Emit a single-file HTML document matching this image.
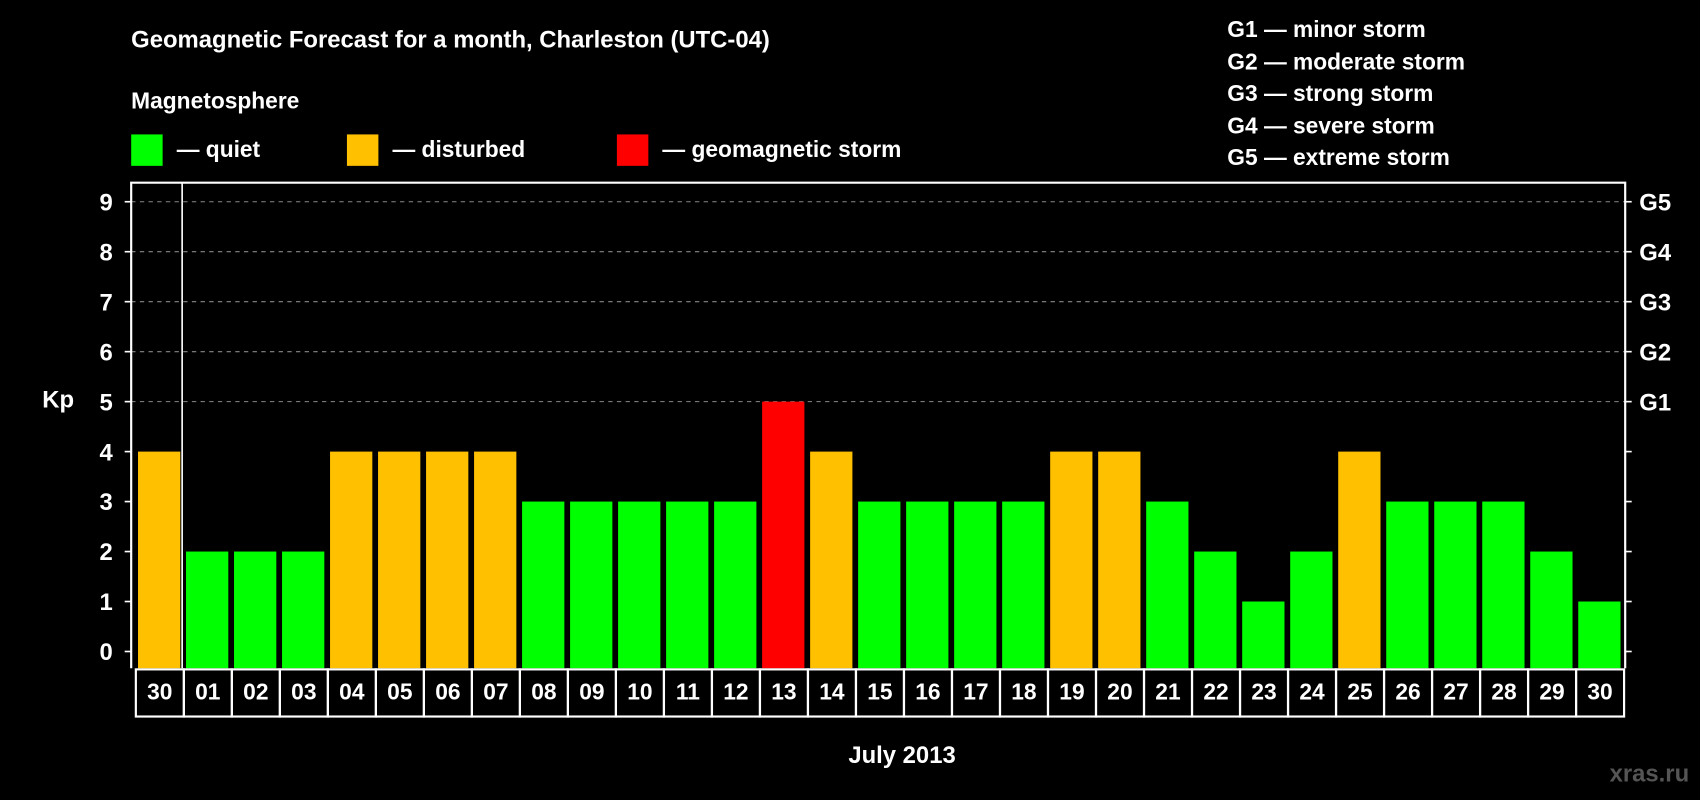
<!DOCTYPE html>
<html><head><meta charset="utf-8"><style>
html,body{margin:0;padding:0;background:#000;width:1700px;height:800px;overflow:hidden}
svg{display:block}
text{font-family:"Liberation Sans",sans-serif;font-weight:bold;fill:#fff}
</style></head><body>
<svg id="chart" width="1700" height="800" viewBox="0 0 1568 738" preserveAspectRatio="none" xmlns="http://www.w3.org/2000/svg">
<rect x="0" y="0" width="1568" height="738" fill="#000"/>
<text x="121" y="44" font-size="22">Geomagnetic Forecast for a month, Charleston (UTC-04)</text>
<text x="121" y="100" font-size="21">Magnetosphere</text>
<g><rect x="121" y="124" width="29" height="29" fill="#00ff00"/><text x="163" y="145" font-size="21">— quiet</text></g>
<g><rect x="320" y="124" width="29" height="29" fill="#ffc000"/><text x="362" y="145" font-size="21">— disturbed</text></g>
<g><rect x="569" y="124" width="29" height="29" fill="#ff0000"/><text x="611" y="145" font-size="21">— geomagnetic storm</text></g>
<g font-size="21">
<text x="1132" y="34">G1 — minor storm</text>
<text x="1132" y="64">G2 — moderate storm</text>
<text x="1132" y="93">G3 — strong storm</text>
<text x="1132" y="123">G4 — severe storm</text>
<text x="1132" y="152">G5 — extreme storm</text>
</g>
<text x="39" y="376" font-size="22">Kp</text>
<text x="832" y="704" font-size="22" text-anchor="middle">July 2013</text>
<text x="1558" y="721" font-size="22" text-anchor="end" style="fill:#555">xras.ru</text>
<g id="grid"></g>
<g id="bars"></g>
<g id="axes"></g>
</svg>
<script>
const days = ["30","01","02","03","04","05","06","07","08","09","10","11","12","13","14","15","16","17","18","19","20","21","22","23","24","25","26","27","28","29","30"];
const kpValues = [4,2,2,2,4,4,4,4,3,3,3,3,3,5,4,3,3,3,3,4,4,3,2,1,2,4,3,3,3,2,1];
const yTicks = [0,1,2,3,4,5,6,7,8,9];
const gLabels = ["G1","G2","G3","G4","G5"];
const NS="http://www.w3.org/2000/svg";
const L=121,R=1499,T=168.5,B=616.5;
function y(v){return 601-v*46.1;}
function cellX(i){return 125.3+i*44.28;}
function mk(tag,attrs,parent){const e=document.createElementNS(NS,tag);for(const k in attrs)e.setAttribute(k,attrs[k]);parent.appendChild(e);return e;}
const grid=document.getElementById('grid'),bars=document.getElementById('bars'),axes=document.getElementById('axes');
yTicks.forEach(t=>{
  if(t>=5){const l=mk('line',{x1:L,x2:R,y1:y(t),y2:y(t),stroke:'#888','stroke-width':1,'stroke-dasharray':'4,4'},grid);
  
  }
  const tl=mk('line',{x1:L-6,x2:L,y1:y(t),y2:y(t),stroke:'#fff','stroke-width':1.5},axes);
  
  
  const tr=mk('line',{x1:R,x2:R+6,y1:y(t),y2:y(t),stroke:'#fff','stroke-width':1.5},axes);
  
  
  const tx=mk('text',{x:104,y:y(t)+8,'font-size':22,'text-anchor':'end'},axes);
  tx.textContent=t;
  
  
});
gLabels.forEach((g,i)=>{
  const tx=mk('text',{x:1512,y:y(i+5)+8,'font-size':22},axes);
  tx.textContent=g;
  
  
});
kpValues.forEach((v,i)=>{
  const c=v>=5?'#ff0000':(v>=4?'#ffc000':'#00ff00');
  const b=mk('rect',{x:cellX(i)+2,y:y(v),width:39,height:B-y(v),fill:c},bars);
  
  
  const cell=mk('rect',{x:cellX(i),y:B+1,width:44.28,height:43.5,fill:'none',stroke:'#fff','stroke-width':2},axes);
  
  
  const tx=mk('text',{x:cellX(i)+22.1,y:B+29,'font-size':21,'text-anchor':'middle'},axes);
  tx.textContent=days[i];
  
  
});
const frame=mk('path',{d:`M${L},${B} L${L},${T} L${R},${T} L${R},${B}`,fill:'none',stroke:'#fff','stroke-width':2},axes);


const sep=mk('line',{x1:168,x2:168,y1:T,y2:B,stroke:'#fff','stroke-width':1.5},axes);


</script>
</body></html>
